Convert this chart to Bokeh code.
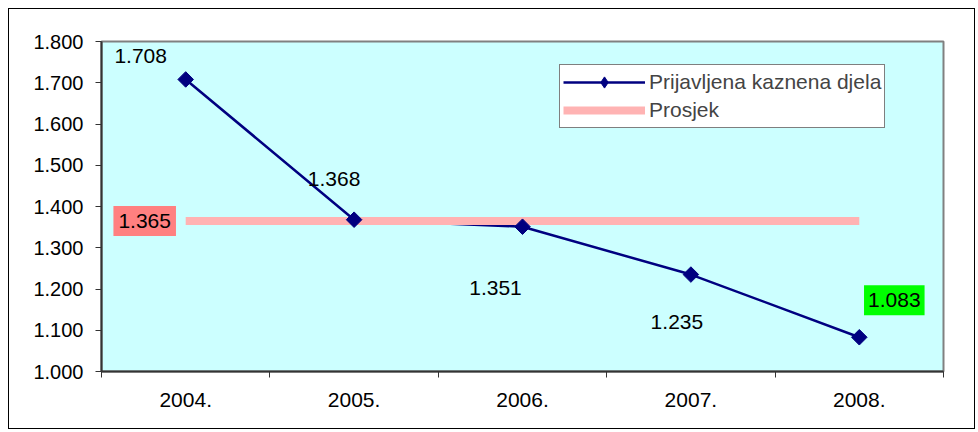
from bokeh.plotting import figure
from bokeh.models import Range1d, FixedTicker, Legend, LegendItem, ColumnDataSource
from bokeh.core.properties import value
from bokeh.embed import file_html
from bokeh.resources import INLINE
import numpy as np

# ---- data ----
years = ["2004.", "2005.", "2006.", "2007.", "2008."]
reported = [1708, 1368, 1351, 1235, 1083]
average = [1365, 1365, 1365, 1365, 1365]
y_ticks = [1000, 1100, 1200, 1300, 1400, 1500, 1600, 1700, 1800]
series_names = ["Prijavljena kaznena djela", "Prosjek"]

def fmt(v):
    return f"{v:,}".replace(",", ".")

FONT = "Liberation Sans"
x_pos = list(range(1, len(years) + 1))

p = figure(width=967, height=421, output_backend="svg", toolbar_location=None,
           x_range=Range1d(0.5, len(years) + 0.5), y_range=Range1d(y_ticks[0], y_ticks[-1]),
           min_border_left=92, min_border_right=33, min_border_top=32, min_border_bottom=59)
p.styles = {"border": "1px solid #000000", "margin-left": "8px", "margin-top": "8px"}
p.background_fill_color = "#CCFFFF"
p.border_fill_color = "#FFFFFF"
p.outline_line_color = "#808080"
p.outline_line_width = 2
p.xgrid.visible = False
p.ygrid.visible = False

# x axis: labels at category centres, ticks between categories
p.xaxis.ticker = FixedTicker(ticks=x_pos, minor_ticks=[x - 0.5 for x in x_pos] + [x_pos[-1] + 0.5])
p.xaxis.major_label_overrides = {x: y for x, y in zip(x_pos, years)}
p.xaxis.major_tick_out = 0
p.xaxis.major_tick_in = 0
p.xaxis.minor_tick_out = 6
p.xaxis.minor_tick_in = 0
p.xaxis.minor_tick_line_color = "#333333"
p.xaxis.minor_tick_line_width = 1
p.xaxis.major_label_standoff = 15
p.xaxis.major_label_text_font_size = "21px"

p.yaxis.ticker = FixedTicker(ticks=y_ticks)
p.yaxis.major_label_overrides = {t: fmt(t) for t in y_ticks}
p.yaxis.major_tick_out = 6
p.yaxis.major_tick_in = 0
p.yaxis.minor_tick_out = 0
p.yaxis.minor_tick_in = 0
p.yaxis.major_label_standoff = 12
p.yaxis.major_label_text_font_size = "20px"

for ax in (p.xaxis, p.yaxis):
    ax.axis_line_color = "#333333"
    ax.axis_line_width = 2
    ax.major_tick_line_color = "#333333"
    ax.major_label_text_font = FONT
    ax.major_label_text_color = "#000000"

src = ColumnDataSource(dict(x=x_pos, y=reported, avg=average,
                            lab=[fmt(v) for v in reported]))

line = p.line("x", "y", source=src, line_color="#000080", line_width=2.5)
avg_line = p.line("x", "avg", source=src, line_color="#FFB3B3", line_width=8, line_cap="butt")
marks = p.scatter("x", "y", source=src, marker="square", angle=np.pi / 4, size=11,
                  fill_color="#000080", line_color="#000080")
# legend-only diamond (zero size in the plot area; legend sizes it itself)
legend_marks = p.scatter("x", "y", source=src, marker="diamond", size=0,
                         fill_color="#000080", line_color="#000080")

# data labels (pixel offsets are layout only)
label_dx = [-45, -20, -27, -14, 35]
label_dy = [23, 41, -61, -47, 37]
for i in range(len(years)):
    bg = "#00FF00" if i == len(years) - 1 else None
    kw = dict(background_fill_color=bg, padding=dict(left=4, right=4, top=8, bottom=8)) if bg else {}
    p.text(x=[x_pos[i]], y=[reported[i]], text=[fmt(reported[i])],
           x_offset=label_dx[i], y_offset=-label_dy[i],
           text_font=value(FONT), text_font_size="21px", text_color="#000000",
           text_align="center", text_baseline="middle", **kw)

p.text(x=[x_pos[0]], y=[average[0]], text=[fmt(average[0])], x_offset=-41, y_offset=0,
       text_font=value(FONT), text_font_size="21px", text_color="#000000",
       text_align="center", text_baseline="middle",
       background_fill_color="#FF8080", padding=dict(left=5, right=5, top=8, bottom=8))

legend = Legend(items=[LegendItem(label=series_names[0], renderers=[line, legend_marks]),
                       LegendItem(label=series_names[1], renderers=[avg_line])],
                location=(458, 243), border_line_color="#000000", border_line_width=1,
                background_fill_color="#FFFFFF", background_fill_alpha=1,
                label_text_font=FONT, label_text_font_size="21px",
                glyph_width=82, glyph_height=28, label_standoff=4, spacing=0,
                padding=3, margin=0, label_height=28)
p.add_layout(legend, "center")

open("out.html", "w").write(file_html(p, INLINE))
